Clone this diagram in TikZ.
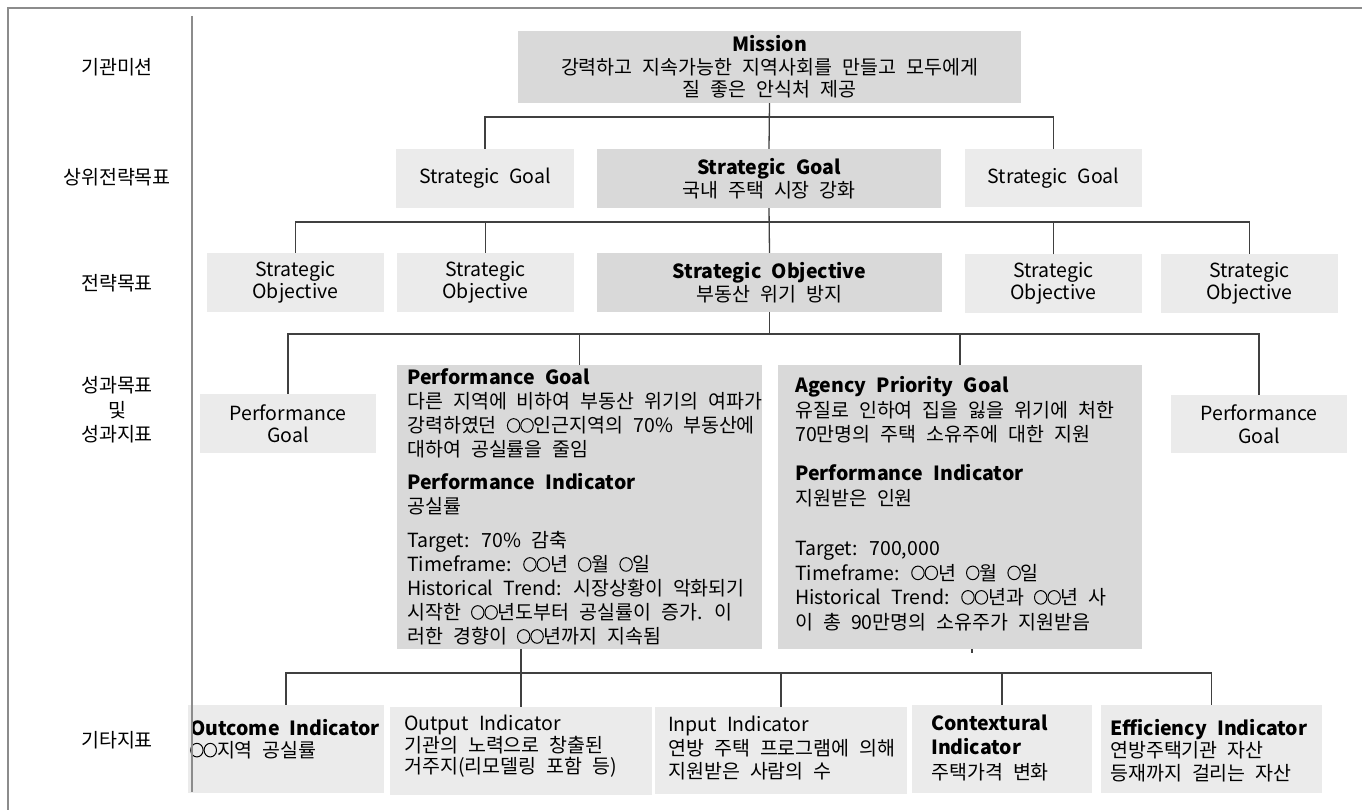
\documentclass[tikz,border=0pt]{standalone}
\usepackage{fontspec}
\setmainfont{Noto Sans CJK KR}[WordSpace=2.3]
\newcommand\diagfont{\fontsize{19.5pt}{22.5pt}\selectfont}
\newcommand\skipto[1]{\fontsize{19.5pt}{#1}\selectfont}
% round placeholder mark used in the texts
\newcommand\oc{\tikz[baseline=0pt, x=1pt, y=1pt]\draw[black, line width=1pt] (6.7,7.2) ellipse[x radius=6.2pt, y radius=6.8pt];}
\definecolor{boxlight}{HTML}{EBEBEB}
\definecolor{boxdark}{HTML}{D9D9D9}
\definecolor{linkcol}{HTML}{404040}
\definecolor{framecol}{HTML}{8C8C8C}
\begin{document}
\begin{tikzpicture}[x=1pt,y=-1pt,
  every node/.style={font=\diagfont, inner sep=0pt},
  lightbox/.style={fill=boxlight, align=center},
  darkbox/.style={fill=boxdark, align=center},
  boxtext/.style={anchor=west, align=left},
  rowlabel/.style={align=center},
  link/.style={draw=linkcol, line width=1.3pt}
]
\useasboundingbox (0,0) rectangle (1362,810);

% outer frame and row separator
\draw[framecol, line width=1.5pt] (8,810) -- (8,8) -- (1362,8);
\coordinate (septop) at (192,16);
\coordinate (sepbot) at (192,792);

% row labels
\node[rowlabel] (lab1) at (117,67) {기관미션};
\node[rowlabel] (lab2) at (117,177) {상위전략목표};
\node[rowlabel] (lab3) at (117,283) {전략목표};
\node[rowlabel] (lab4) at (117,410) {성과목표\\[2pt]및\\[2pt]성과지표};
\node[rowlabel] (lab5) at (117,740) {기타지표};

% mission
\node[darkbox, minimum width=503pt, minimum height=72pt] (mission) at (769.5,67)
  {\textbf{Mission}\\강력하고 지속가능한 지역사회를 만들고 모두에게\\질 좋은 안식처 제공};

% strategic goals
\node[lightbox, minimum width=178pt, minimum height=59pt] (sgl) at (485,178.5) {Strategic Goal};
\node[darkbox, minimum width=344pt, minimum height=59pt] (sgc) at (769,178.5)
  {\textbf{Strategic Goal}\\국내 주택 시장 강화};
\node[lightbox, minimum width=177pt, minimum height=58pt] (sgr) at (1053.5,178) {Strategic Goal};

% strategic objectives
\node[lightbox, minimum width=177pt, minimum height=59pt] (so1) at (295.5,282.5) {Strategic\\Objective};
\node[lightbox, minimum width=177pt, minimum height=59pt] (so2) at (485.5,282.5) {Strategic\\Objective};
\node[darkbox, minimum width=345pt, minimum height=59pt] (so3) at (769.5,282.5)
  {\textbf{Strategic Objective}\\부동산 위기 방지};
\node[lightbox, minimum width=177pt, minimum height=58pt] (so4) at (1053.5,283.5) {Strategic\\Objective};
\node[lightbox, minimum width=177pt, minimum height=58pt] (so5) at (1249.5,283.5) {Strategic\\Objective};

% performance goals and indicators
\node[lightbox, minimum width=176pt, minimum height=59pt] (pgl) at (288,423.5) {Performance\\Goal};
\node[darkbox, minimum width=365pt, minimum height=284pt] (pgc) at (579.5,507) {};
\node[boxtext, font=\skipto{24pt}] (pgctext) at (407,507)
  {\textbf{Performance Goal}\\
   다른 지역에 비하여 부동산 위기의 여파가\\
   강력하였던 \oc\oc 인근지역의 70\% 부동산에\\
   대하여 공실률을 줄임\\[9pt]
   \textbf{Performance Indicator}\\
   공실률\\[10pt]
   Target: 70\% 감축\\
   Timeframe: \oc\oc 년 \oc 월 \oc 일\\
   Historical Trend: 시장상황이 악화되기\\
   시작한 \oc\oc 년도부터 공실률이 증가. 이\\
   러한 경향이 \oc\oc 년까지 지속됨};
\node[darkbox, minimum width=364pt, minimum height=284pt] (apg) at (960,507) {};
\node[boxtext, font=\skipto{24.5pt}] (apgtext) at (795,503.5)
  {\textbf{Agency Priority Goal}\\
   유질로 인하여 집을 잃을 위기에 처한\\
   70만명의 주택 소유주에 대한 지원\\[14.5pt]
   \textbf{Performance Indicator}\\
   지원받은 인원\\[26pt]
   Target: 700,000\\
   Timeframe: \oc\oc 년 \oc 월 \oc 일\\
   Historical Trend: \oc\oc 년과 \oc\oc 년 사\\
   이 총 90만명의 소유주가 지원받음};
\node[lightbox, minimum width=176pt, minimum height=58pt] (pgr) at (1259,424) {Performance\\Goal};

% other indicators
\node[lightbox, minimum width=196pt, minimum height=88pt] (outcome) at (286,749) {};
\node[boxtext, font=\skipto{22pt}] (outcometext) at (190,739)
  {\textbf{Outcome Indicator}\\\oc\oc 지역 공실률};
\node[lightbox, minimum width=262pt, minimum height=88pt] (output) at (521,751) {};
\node[boxtext, font=\skipto{21.5pt}] (outputtext) at (404,746.5)
  {Output Indicator\\기관의 노력으로 창출된\\거주지(리모델링 포함 등)};
\node[lightbox, minimum width=252pt, minimum height=87pt] (input) at (781,750.5) {};
\node[boxtext, font=\skipto{23.5pt}] (inputtext) at (668,748.5)
  {Input Indicator\\연방 주택 프로그램에 의해\\지원받은 사람의 수};
\node[lightbox, minimum width=180pt, minimum height=88pt] (context) at (1002,749) {};
\node[boxtext, font=\skipto{24.5pt}] (contexttext) at (931,747.5)
  {\textbf{Contextural}\\\textbf{Indicator}\\주택가격 변화};
\node[lightbox, minimum width=221pt, minimum height=88pt] (effic) at (1211.5,749) {};
\node[boxtext, font=\skipto{22.5pt}] (effictext) at (1110,750.5)
  {\textbf{Efficiency Indicator}\\연방주택기관 자산\\등재까지 걸리는 자산};

\draw[framecol, line width=2pt] (septop) -- (sepbot);

% bus lines between levels
\coordinate (bus1) at (0,117);
\coordinate (bus2) at (0,222);
\coordinate (bus3) at (0,334);
\coordinate (bus4) at (0,673);
\coordinate (stub) at (972,649);

\draw[link] (mission.south) -- (sgc.north);
\draw[link] (sgl.north) -- (sgl.north |- bus1) -- (sgr.north |- bus1) -- (sgr.north);

\draw[link] (sgc.south) -- (so3.north);
\draw[link] (so1.north) -- (so1.north |- bus2) -- (so5.north |- bus2) -- (so5.north);
\draw[link] (so2.north) -- (so2.north |- bus2);
\draw[link] (so4.north) -- (so4.north |- bus2);

\draw[link] (so3.south) -- (so3.south |- bus3);
\draw[link] (pgl.north) -- (pgl.north |- bus3) -- (pgr.north |- bus3) -- (pgr.north);
\draw[link] (pgc.north) -- (pgc.north |- bus3);
\draw[link] (apg.north) -- (apg.north |- bus3);

\draw[link] (pgc.south -| output.north) -- (output.north);
\draw[link] (outcome.north) -- (outcome.north |- bus4) -- (effic.north |- bus4) -- (effic.north);
\draw[link] (input.north) -- (input.north |- bus4);
\draw[link] (context.north) -- (context.north |- bus4);
\draw[link] (apg.south -| stub) -- ++(0,4);
\end{tikzpicture}
\end{document}
